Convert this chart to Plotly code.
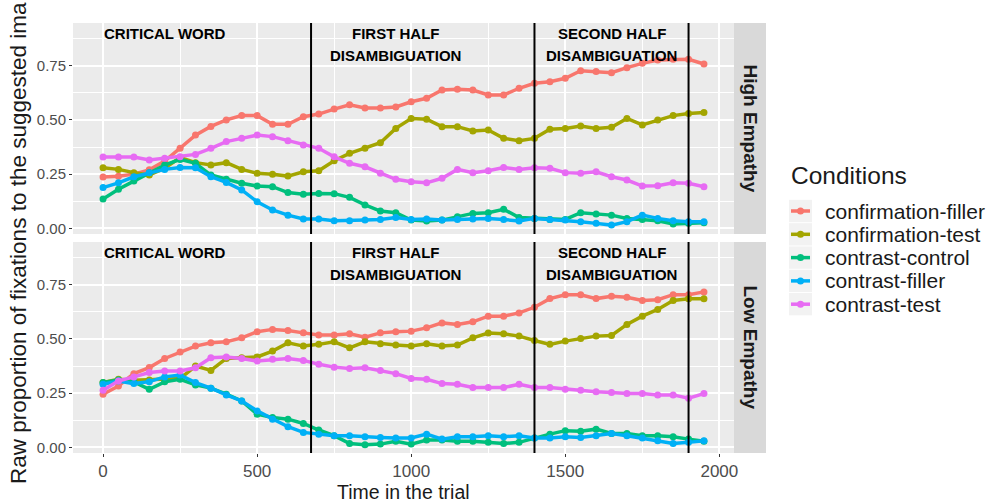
import plotly.graph_objects as go

time_ms = [0, 50, 100, 150, 200, 250, 300, 350, 400, 450, 500, 550, 600, 650, 700, 750,
           800, 850, 900, 950, 1000, 1050, 1100, 1150, 1200, 1250, 1300, 1350, 1400, 1450,
           1500, 1550, 1600, 1650, 1700, 1750, 1800, 1850, 1900, 1950]

conditions = ["confirmation-filler", "confirmation-test", "contrast-control", "contrast-filler", "contrast-test"]
colors = ["#F8766D", "#A3A500", "#00BF7D", "#00B0F6", "#E76BF3"]
panels = ["High Empathy", "Low Empathy"]

high_conf_filler = [0.237, 0.24, 0.25, 0.27, 0.31, 0.37, 0.43, 0.47, 0.50, 0.52, 0.52, 0.48, 0.48, 0.515, 0.527, 0.55, 0.57, 0.555, 0.555, 0.56,
                    0.584, 0.60, 0.638, 0.641, 0.638, 0.615, 0.615, 0.646, 0.669, 0.676, 0.692, 0.727, 0.723, 0.718, 0.741, 0.761, 0.776, 0.78, 0.78, 0.758]
high_conf_test = [0.28, 0.272, 0.257, 0.246, 0.277, 0.327, 0.303, 0.292, 0.303, 0.272, 0.254, 0.25, 0.241, 0.261, 0.266, 0.312, 0.346, 0.369, 0.395, 0.461,
                  0.507, 0.503, 0.469, 0.469, 0.449, 0.454, 0.415, 0.404, 0.415, 0.457, 0.461, 0.472, 0.461, 0.466, 0.507, 0.477, 0.50, 0.52, 0.53, 0.534]
high_contrast_control = [0.135, 0.18, 0.218, 0.257, 0.292, 0.318, 0.30, 0.246, 0.226, 0.208, 0.195, 0.192, 0.165, 0.157, 0.161, 0.16, 0.143, 0.108, 0.08, 0.072,
                         0.038, 0.034, 0.038, 0.054, 0.069, 0.072, 0.088, 0.05, 0.046, 0.041, 0.041, 0.072, 0.066, 0.061, 0.046, 0.041, 0.035, 0.02, 0.023, 0.026]
high_contrast_filler = [0.188, 0.21, 0.238, 0.257, 0.272, 0.281, 0.28, 0.238, 0.212, 0.177, 0.123, 0.085, 0.061, 0.043, 0.043, 0.035, 0.035, 0.038, 0.041, 0.05,
                        0.041, 0.043, 0.038, 0.041, 0.043, 0.046, 0.041, 0.034, 0.046, 0.041, 0.038, 0.031, 0.023, 0.015, 0.031, 0.061, 0.046, 0.035, 0.031, 0.031]
high_contrast_test = [0.329, 0.329, 0.329, 0.315, 0.323, 0.33, 0.341, 0.369, 0.40, 0.415, 0.43, 0.423, 0.404, 0.384, 0.369, 0.33, 0.30, 0.284, 0.254, 0.226,
                      0.215, 0.21, 0.231, 0.272, 0.257, 0.266, 0.281, 0.272, 0.28, 0.277, 0.257, 0.254, 0.261, 0.238, 0.223, 0.195, 0.197, 0.21, 0.208, 0.192]

low_conf_filler = [0.245, 0.283, 0.34, 0.368, 0.41, 0.44, 0.467, 0.482, 0.487, 0.505, 0.533, 0.544, 0.539, 0.528, 0.518, 0.518, 0.524, 0.508, 0.528, 0.533,
                   0.536, 0.551, 0.574, 0.567, 0.579, 0.605, 0.605, 0.62, 0.646, 0.686, 0.704, 0.704, 0.686, 0.697, 0.692, 0.677, 0.681, 0.704, 0.704, 0.717]
low_conf_test = [0.299, 0.314, 0.309, 0.311, 0.311, 0.317, 0.375, 0.355, 0.41, 0.413, 0.417, 0.444, 0.482, 0.467, 0.475, 0.487, 0.459, 0.487, 0.478, 0.472,
                 0.467, 0.478, 0.467, 0.472, 0.505, 0.527, 0.524, 0.513, 0.493, 0.475, 0.49, 0.502, 0.513, 0.516, 0.567, 0.605, 0.636, 0.677, 0.685, 0.685]
low_contrast_control = [0.299, 0.311, 0.302, 0.268, 0.302, 0.314, 0.288, 0.273, 0.245, 0.214, 0.153, 0.138, 0.13, 0.11, 0.08, 0.054, 0.018, 0.012, 0.015, 0.028,
                        0.015, 0.034, 0.034, 0.028, 0.028, 0.023, 0.018, 0.023, 0.043, 0.061, 0.077, 0.074, 0.084, 0.064, 0.064, 0.054, 0.054, 0.049, 0.038, 0.028]
low_contrast_filler = [0.291, 0.306, 0.294, 0.303, 0.325, 0.334, 0.299, 0.273, 0.242, 0.214, 0.168, 0.13, 0.095, 0.069, 0.061, 0.054, 0.054, 0.049, 0.046, 0.043,
                       0.043, 0.061, 0.038, 0.049, 0.049, 0.054, 0.049, 0.054, 0.043, 0.043, 0.049, 0.046, 0.054, 0.064, 0.054, 0.043, 0.031, 0.018, 0.023, 0.031]
low_contrast_test = [0.263, 0.306, 0.325, 0.345, 0.352, 0.352, 0.367, 0.413, 0.417, 0.41, 0.398, 0.406, 0.41, 0.401, 0.383, 0.37, 0.364, 0.367, 0.355, 0.34,
                     0.318, 0.314, 0.294, 0.291, 0.276, 0.276, 0.276, 0.291, 0.276, 0.276, 0.268, 0.263, 0.256, 0.253, 0.248, 0.248, 0.242, 0.242, 0.227, 0.248]

high_series = [high_conf_filler, high_conf_test, high_contrast_control, high_contrast_filler, high_contrast_test]
low_series = [low_conf_filler, low_conf_test, low_contrast_control, low_contrast_filler, low_contrast_test]

phase_boundaries = [675, 1400, 1900]
phase_labels = [("CRITICAL WORD", None, 200), ("FIRST HALF", "DISAMBIGUATION", 950), ("SECOND HALF", "DISAMBIGUATION", 1650)]

x_ticks = [0, 500, 1000, 1500, 2000]
y_ticks = [0.0, 0.25, 0.50, 0.75]
y_tick_text = ["0.00", "0.25", "0.50", "0.75"]

FONT = "Liberation Sans, Arial, sans-serif"
W, H = 987, 502
ML, MR, MT, MB = 73, 221, 23, 49
PW = W - ML - MR
PH = H - MT - MB
panel_right = 734
xdom_end = (panel_right - ML) / PW
top_dom = [(H - MB - 234) / PH, 1.0]
bot_dom = [0.0, (453 - 242) / PH]


def px_x(p):
    return (p - ML) / PW


def px_y(p):
    return (H - MB - p) / PH


fig = go.Figure()
for idx, (xa, ya, series) in enumerate([("x", "y", high_series), ("x2", "y2", low_series)]):
    for name, col, vals in zip(conditions, colors, series):
        fig.add_trace(go.Scatter(
            x=time_ms, y=vals, mode="lines+markers", name=name,
            line=dict(color=col, width=3.5), marker=dict(color=col, size=7),
            xaxis=xa, yaxis=ya, legendgroup=name, showlegend=False))

yr = [-0.026, 0.947]
xr = [-97.5, 2047.5]
grid = dict(showgrid=True, gridcolor="white", gridwidth=1.5, zeroline=False,
            showline=False, ticks="outside", ticklen=3, tickcolor="#333333", tickwidth=1)
minor_x = dict(dtick=250, showgrid=True, gridcolor="white", gridwidth=0.8, ticks="")
minor_y = dict(dtick=0.125, showgrid=True, gridcolor="white", gridwidth=0.8, ticks="")

fig.update_layout(
    width=W, height=H, margin=dict(l=ML, r=MR, t=MT, b=MB),
    paper_bgcolor="white", plot_bgcolor="#EBEBEB",
    font=dict(family=FONT, color="#1A1A1A"),
    xaxis=dict(domain=[0, xdom_end], range=xr, anchor="y", showticklabels=False,
               tickvals=x_ticks, minor=minor_x, **{**grid, "ticks": ""}),
    xaxis2=dict(domain=[0, xdom_end], range=xr, anchor="y2", tickvals=x_ticks,
                tickfont=dict(size=17, color="#4D4D4D"), minor=minor_x, **grid),
    yaxis=dict(domain=top_dom, range=yr, anchor="x", tickvals=y_ticks, ticktext=y_tick_text,
               tickfont=dict(size=15, color="#4D4D4D"), minor=minor_y, **grid),
    yaxis2=dict(domain=bot_dom, range=yr, anchor="x2", tickvals=y_ticks, ticktext=y_tick_text,
                tickfont=dict(size=15, color="#4D4D4D"), minor=minor_y, **grid),
    showlegend=False,
)

shapes = []
annotations = []
for xa, ya in [("x", "y"), ("x2", "y2")]:
    for b in phase_boundaries:
        shapes.append(dict(type="line", xref=xa, yref=ya + " domain", x0=b, x1=b, y0=0, y1=1,
                           line=dict(color="black", width=2), layer="above"))
    for l1, l2, xc in phase_labels:
        annotations.append(dict(text="<b>%s</b>" % l1, x=xc, y=0.9, xref=xa, yref=ya, showarrow=False,
                                font=dict(size=15, color="black", family=FONT), xanchor="center", yanchor="middle"))
        if l2:
            annotations.append(dict(text="<b>%s</b>" % l2, x=xc, y=0.795, xref=xa, yref=ya, showarrow=False,
                                    font=dict(size=15, color="black", family=FONT), xanchor="center", yanchor="middle"))

# facet strips
for dom, label in [(top_dom, panels[0]), (bot_dom, panels[1])]:
    shapes.append(dict(type="rect", xref="paper", yref="paper", x0=xdom_end, x1=px_x(766),
                       y0=dom[0], y1=dom[1], fillcolor="#D9D9D9", line=dict(width=0), layer="below"))
    annotations.append(dict(text="<b>%s</b>" % label, xref="paper", yref="paper",
                            x=(xdom_end + px_x(766)) / 2, y=(dom[0] + dom[1]) / 2,
                            textangle=90, showarrow=False, font=dict(size=19, color="#1A1A1A"),
                            xanchor="center", yanchor="middle"))

# legend (ggplot-style keys)
annotations.append(dict(text="Conditions", xref="paper", yref="paper", x=px_x(789), y=px_y(175),
                        showarrow=False, font=dict(size=24.5, color="#1A1A1A"),
                        xanchor="left", yanchor="middle"))
key_step = 23.3
for i, (name, col) in enumerate(zip(conditions, colors)):
    cy = 211 + i * key_step
    shapes.append(dict(type="rect", xref="paper", yref="paper", x0=px_x(789), x1=px_x(812),
                       y0=px_y(cy + key_step / 2 - 0.5), y1=px_y(cy - key_step / 2 + 0.5),
                       fillcolor="#F2F2F2", line=dict(width=0), layer="below"))
    shapes.append(dict(type="line", xref="paper", yref="paper", x0=px_x(791), x1=px_x(810),
                       y0=px_y(cy), y1=px_y(cy), line=dict(color=col, width=3.5)))
    shapes.append(dict(type="circle", xref="paper", yref="paper", x0=px_x(797), x1=px_x(804),
                       y0=px_y(cy + 3.5), y1=px_y(cy - 3.5), fillcolor=col, line=dict(width=0)))
    annotations.append(dict(text=name, xref="paper", yref="paper", x=px_x(823), y=px_y(cy),
                            showarrow=False, font=dict(size=21, color="#1A1A1A"),
                            xanchor="left", yanchor="middle"))

annotations.append(dict(text="Time in the trial", xref="paper", yref="paper",
                        x=xdom_end / 2, y=px_y(491.5), showarrow=False, borderpad=0,
                        font=dict(size=19.5, color="#1A1A1A"), xanchor="center", yanchor="middle"))
annotations.append(dict(text="Raw proportion of fixations to the suggested ima", xref="paper", yref="paper",
                        x=px_x(18), y=px_y(486), showarrow=False, textangle=-90,
                        font=dict(size=22.5, color="#1A1A1A"), xanchor="center", yanchor="bottom"))

fig.update_layout(shapes=shapes, annotations=annotations)
fig.write_html("out.html")
